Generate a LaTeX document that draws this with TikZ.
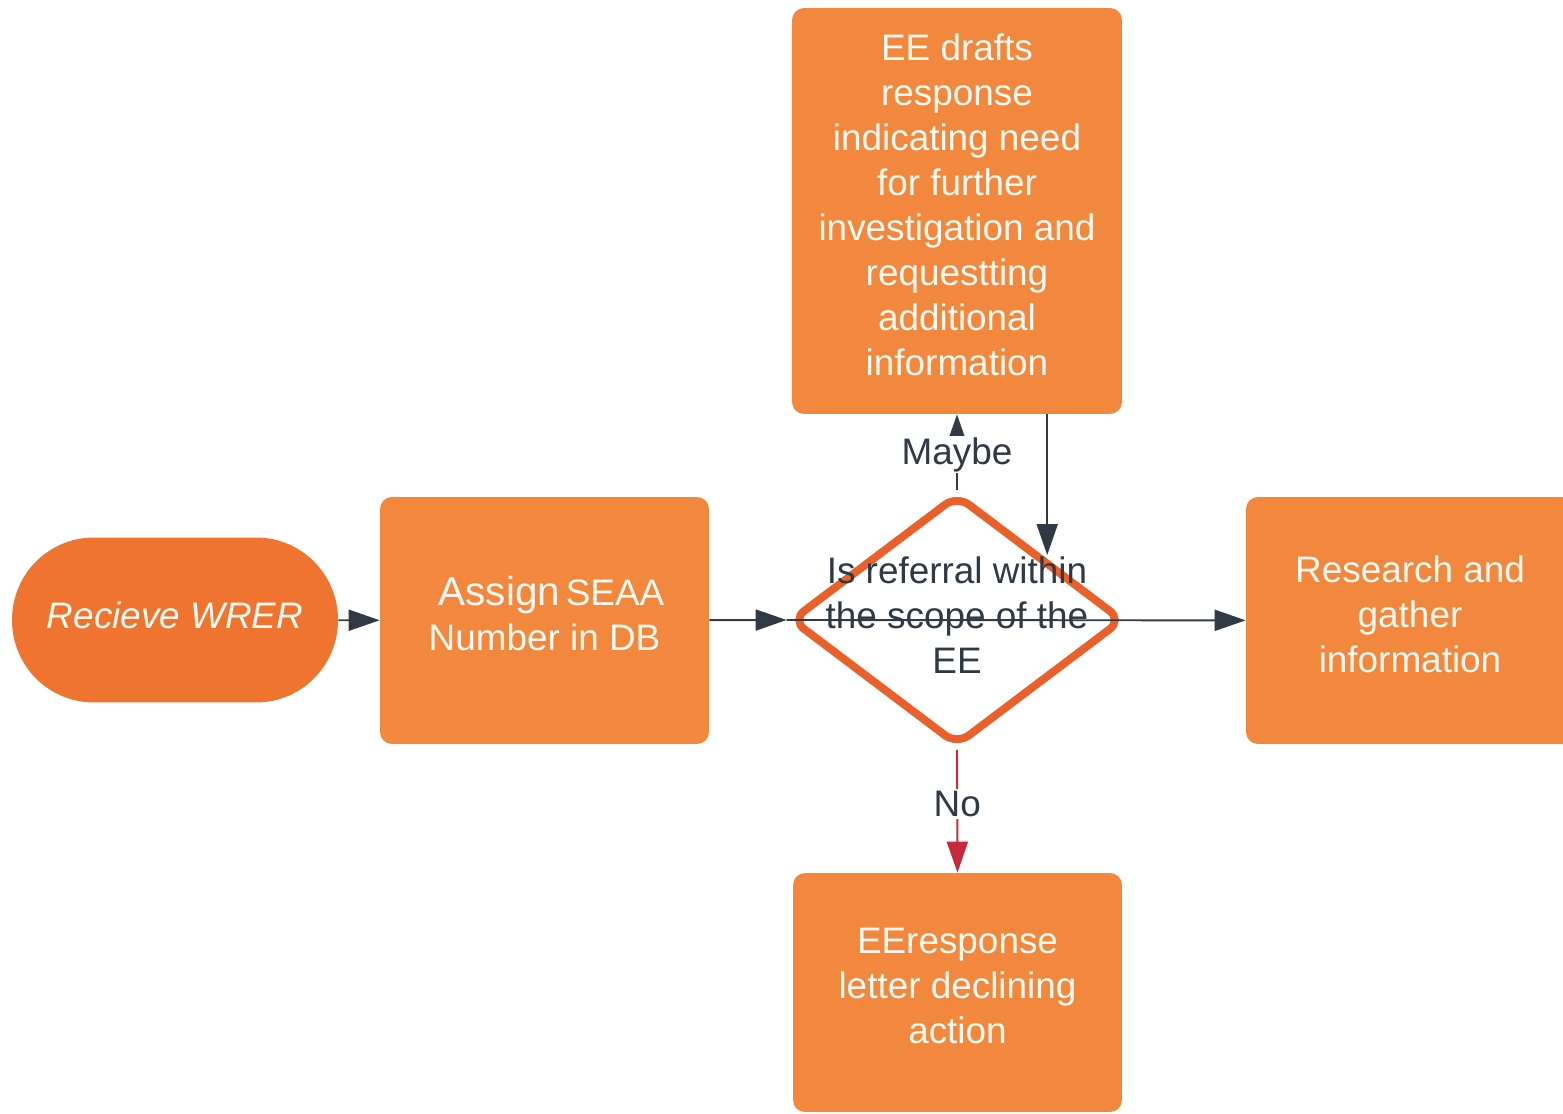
\documentclass[tikz,border=0pt]{standalone}
\usepackage{fontspec}
\setmainfont{Liberation Sans}
\usepackage{tikz}
\usetikzlibrary{calc}
\usetikzlibrary{arrows.meta,shapes.geometric,positioning}
\usepackage{xcolor}

\definecolor{boxorange}{HTML}{F2883D}
\definecolor{startorange}{HTML}{EE7430}
\definecolor{diaorange}{HTML}{E9602B}
\definecolor{linegray}{HTML}{2F3A45}
\definecolor{nored}{HTML}{C8283C}
\definecolor{boxtext}{HTML}{FFF9F2}

\tikzset{
    stepbox/.style={rectangle, rounded corners=0.24cm, fill=boxorange, text=boxtext,
        align=center, inner sep=0pt, font=\fontsize{21pt}{25.6pt}\selectfont,
        execute at begin node=\strut, execute at end node=\strut},
    startbox/.style={stepbox, fill=startorange, rounded corners=1.64cm,
        font=\fontsize{21pt}{25.6pt}\selectfont\itshape},
    decide/.style={diamond, draw=diaorange, line width=4.5pt, fill=white,
        rounded corners=0.3cm, inner sep=0pt},
    flow/.style={draw=linegray, line width=1.1pt,
        -{Triangle[length=0.62cm,width=0.42cm]}},
    lbl/.style={fill=white, text=linegray, inner sep=1pt,
        font=\fontsize{21pt}{25.6pt}\selectfont}
}

\begin{document}
\begin{tikzpicture}[x=0.02cm,y=-0.02cm]
        \useasboundingbox (0,0) rectangle (1563,1114);

        % Steps of the process
        \node[startbox, minimum width=6.52cm, minimum height=3.3cm] (recv) at (175,620) {Recieve WRER};
        \node[stepbox, minimum width=6.58cm, minimum height=4.94cm] (assign) at (544.5,620.5)
            {\hspace*{0.28cm}{\fontsize{23pt}{25.6pt}\selectfont Assign}\hspace{0.16em}SEAA\\Number in DB};
        \node[decide, minimum width=6.66cm, minimum height=5.04cm] (dec) at (957,620) {};
        \node[stepbox, minimum width=6.6cm, minimum height=8.12cm] (draft) at (957,211)
            {EE drafts\\response\\indicating need\\for further\\investigation and\\requestting\\additional\\information};
        \node[stepbox, minimum width=6.56cm, minimum height=4.94cm] (research) at (1410,620.5)
            {Research and\\gather\\information};
        \node[stepbox, minimum width=6.58cm, minimum height=4.78cm] (decline) at (957.5,992.5)
            {EEresponse\\letter declining\\action};

        % Question inside the diamond
        \node[align=center, text=linegray, font=\fontsize{21pt}{25.6pt}\selectfont] (q) at (957,615)
            {Is referral within\\the scope of the\\EE};

        % Main flow
        \draw[flow] (recv) -- (assign);
        \draw[flow] (assign) -- (dec.west);
        \draw[flow] (dec.west) -- (research);

        % Maybe branch and way back
        \draw[flow] (dec.north) -- node[lbl, pos=0.47] (maybe) {Maybe} (draft.south);
        \draw[flow] ([xshift=0.1cm]draft.south -| dec.north east) -- ([xshift=0.1cm]dec.north east);

        % No branch
        \draw[flow, draw=nored, fill=nored] (dec.south) -- node[lbl, pos=0.44] (no) {No} (decline.north);

    \end{tikzpicture}
\end{document}
